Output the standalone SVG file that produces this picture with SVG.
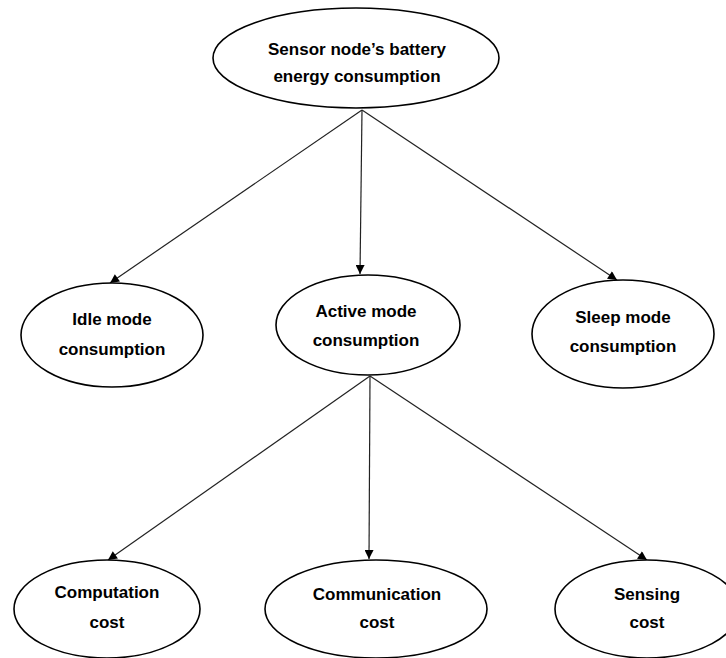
<svg xmlns="http://www.w3.org/2000/svg" width="726" height="658" viewBox="0 0 726 658">
<defs>
<marker id="arr" viewBox="0 0 10 10" refX="10" refY="5" markerWidth="10" markerHeight="9" markerUnits="userSpaceOnUse" orient="auto">
<path d="M0,0 L10,5 L0,10 Z" fill="#000"/>
</marker>
</defs>
<style>
.n ellipse{fill:#fff;stroke:#000;stroke-width:1.6}
.n text{font-family:"Liberation Sans",Arial,sans-serif;font-weight:bold;font-size:17px;fill:#000;text-anchor:middle}
.c line{stroke:#222;stroke-width:1.2;marker-end:url(#arr)}
</style>
<rect width="726" height="658" fill="#fff"/>
<g class="c" id="connectors">
<line x1="362" y1="110" x2="110" y2="283"/>
<line x1="362" y1="110" x2="360" y2="274"/>
<line x1="362" y1="110" x2="617" y2="280"/>
<line x1="370" y1="376" x2="108" y2="560"/>
<line x1="370" y1="376" x2="369" y2="559"/>
<line x1="370" y1="376" x2="647" y2="560"/>
</g>
<g class="n" id="root">
<ellipse cx="356" cy="58" rx="143" ry="50"/>
<text x="357" y="55">Sensor node’s battery</text>
<text x="357" y="82">energy consumption</text>
</g>
<g class="n" id="idle">
<ellipse cx="112" cy="335" rx="91" ry="52"/>
<text x="112" y="325">Idle mode</text>
<text x="112" y="355">consumption</text>
</g>
<g class="n" id="active">
<ellipse cx="368" cy="325" rx="92" ry="50"/>
<text x="366" y="317">Active mode</text>
<text x="366" y="346">consumption</text>
</g>
<g class="n" id="sleep">
<ellipse cx="623" cy="334" rx="91" ry="54"/>
<text x="623" y="323">Sleep mode</text>
<text x="623" y="352">consumption</text>
</g>
<g class="n" id="computation">
<ellipse cx="107" cy="609" rx="93" ry="49"/>
<text x="107" y="598">Computation</text>
<text x="107" y="628">cost</text>
</g>
<g class="n" id="communication">
<ellipse cx="376" cy="609" rx="111" ry="49"/>
<text x="377" y="600">Communication</text>
<text x="377" y="628">cost</text>
</g>
<g class="n" id="sensing">
<ellipse cx="647" cy="609" rx="92" ry="49"/>
<text x="647" y="600">Sensing</text>
<text x="647" y="628">cost</text>
</g>
</svg>
